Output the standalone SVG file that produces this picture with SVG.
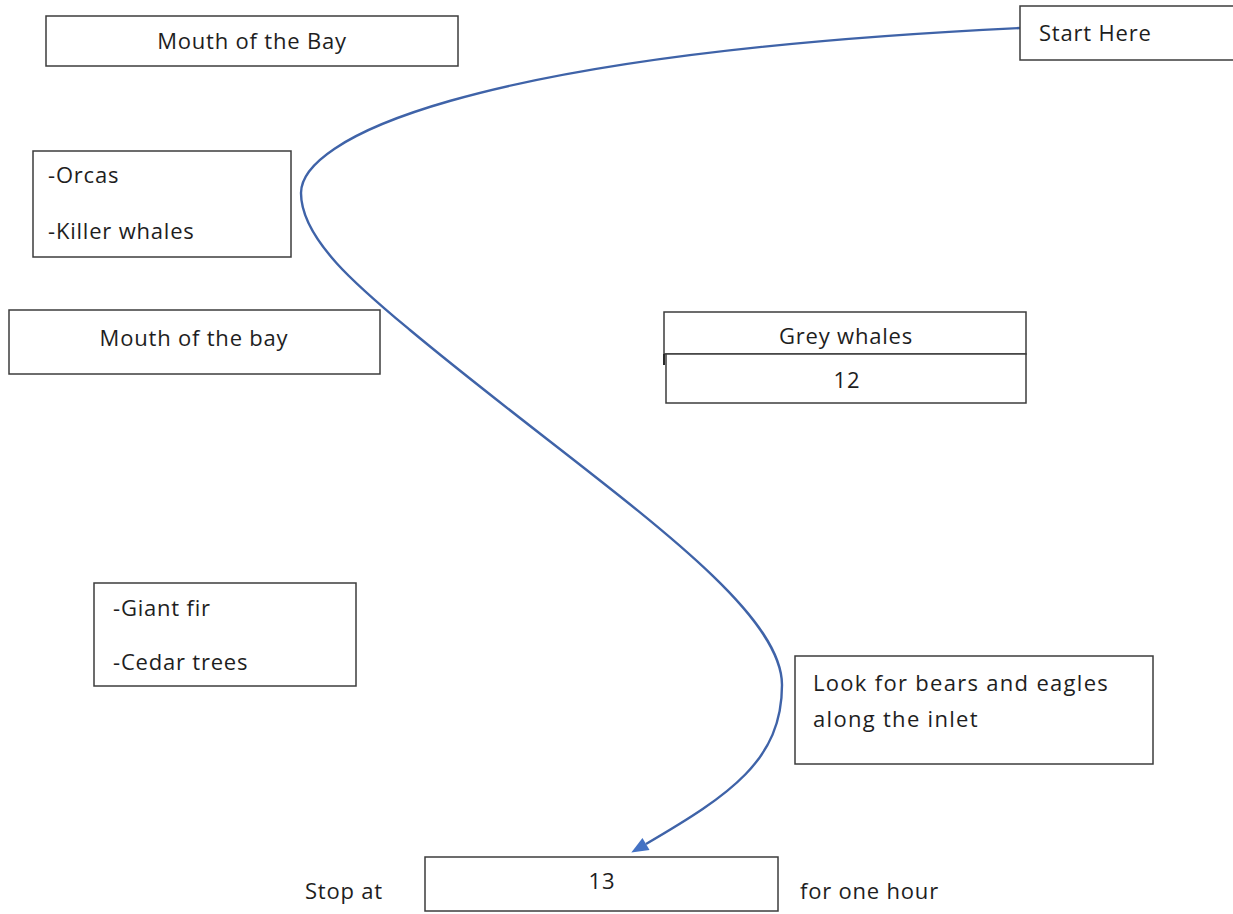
<svg xmlns="http://www.w3.org/2000/svg" width="1233" height="914" viewBox="0 0 1233 914">
<style>
.box{fill:#ffffff;stroke:#3c3c3c;stroke-width:1.5}
.t{font-family:"Open Sans","Liberation Sans",sans-serif;font-size:22px;fill:#1e1e1e;letter-spacing:0.8px}
.c{text-anchor:middle}
.conn{fill:none;stroke:#3f63a8;stroke-width:2.4}
</style>
<defs>
<marker id="arrow" markerUnits="userSpaceOnUse" markerWidth="20" markerHeight="16" refX="0" refY="7" orient="auto" overflow="visible">
<path d="M0,0 L17,7 L0,14 z" fill="#4472c4"/>
</marker>
</defs>
<rect width="1233" height="914" fill="#ffffff"/>
<g id="connectors">
<path class="conn" marker-end="url(#arrow)" d="M1020,28 C460,55 301,140 301,193 C301,240 362,290 410,330 C590,480 782,600 782,685 C782,760 730,795 646,844"/>
</g>
<g id="mouth-bay-top">
<rect class="box" x="46" y="16" width="412" height="50"/>
<text class="t c" x="252" y="49">Mouth of the Bay</text>
</g>
<g id="orcas">
<rect class="box" x="33" y="151" width="258" height="106"/>
<text class="t" x="48" y="183">-Orcas</text>
<text class="t" x="48" y="239">-Killer whales</text>
</g>
<g id="mouth-bay-mid">
<rect class="box" x="9" y="310" width="371" height="64"/>
<text class="t c" x="194" y="346">Mouth of the bay</text>
</g>
<g id="grey-whales">
<rect class="box" x="664" y="312" width="362" height="42"/>
<rect class="box" x="666" y="354" width="360" height="49"/>
<line x1="664" y1="354" x2="664" y2="365" stroke="#2a2a2a" stroke-width="2"/>
<text class="t c" x="846" y="344">Grey whales</text>
<text class="t c" x="847" y="388">12</text>
</g>
<g id="start-here">
<rect class="box" x="1020" y="6" width="230" height="54"/>
<text class="t" x="1039" y="41">Start Here</text>
</g>
<g id="giant-fir">
<rect class="box" x="94" y="583" width="262" height="103"/>
<text class="t" x="113" y="616">-Giant fir</text>
<text class="t" x="113" y="670">-Cedar trees</text>
</g>
<g id="bears-eagles">
<rect class="box" x="795" y="656" width="358" height="108"/>
<text class="t" x="813" y="691" style="letter-spacing:1.3px">Look for bears and eagles</text>
<text class="t" x="813" y="727" style="letter-spacing:1.3px">along the inlet</text>
</g>
<g id="stop-13">
<rect class="box" x="425" y="857" width="353" height="54"/>
<text class="t c" x="602" y="889">13</text>
</g>
<g id="stop-label">
<text class="t" x="305" y="899">Stop at</text>
</g>
<g id="hour-label">
<text class="t" x="800" y="899">for one hour</text>
</g>
</svg>
